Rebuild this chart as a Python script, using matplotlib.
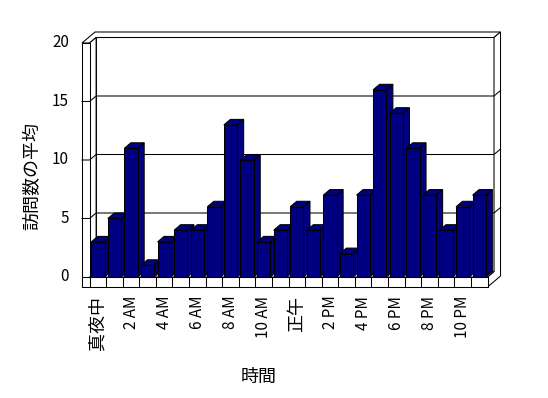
import matplotlib
matplotlib.use("Agg")
import matplotlib.pyplot as plt
from matplotlib.patches import Polygon

plt.rcParams["font.family"] = ["Noto Sans CJK JP", "DejaVu Sans"]

# average visits per hour (0..23)
visits = [3, 5, 11, 1, 3, 4, 4, 6, 13, 10, 3, 4,
          6, 4, 7, 2, 7, 16, 14, 11, 7, 4, 6, 7]
tick_labels = ["真夜中", "2 AM", "4 AM", "6 AM", "8 AM", "10 AM",
               "正午", "2 PM", "4 PM", "6 PM", "8 PM", "10 PM"]
y_ticks = [0, 5, 10, 15, 20]

NAVY = "#000080"
LW = 0.75
DX, DY = 0.392, 0.47       # depth offset (one depth unit) in data units
WALL_T = -0.458            # outer edge of the left wall
FLOOR_B = -0.855           # bottom of the floor slab
TOP = 20
n = len(visits)


def face(pts, z, fc="white"):
    ax.add_patch(Polygon(pts, closed=True, fc=fc, ec="black", lw=LW,
                         joinstyle="miter", zorder=z))


fig = plt.figure(figsize=(5.48, 3.98), dpi=100)
ax = fig.add_axes([0, 0, 1, 1])
ax.set_xlim(-5.404, 27.648)
ax.set_ylim(-10.342, 23.675)
ax.axis("off")

# walls and floor
face([(DX, DY), (n + DX, DY), (n + DX, TOP + DY), (DX, TOP + DY)], 1)
face([(WALL_T, TOP), (WALL_T + 2 * DX, TOP + 2 * DY), (n + 2 * DX, TOP + 2 * DY),
      (n + DX, TOP + DY), (DX, TOP + DY), (0, TOP)], 1)
face([(n, FLOOR_B), (n + 2 * DX, FLOOR_B + 2 * DY), (n + 2 * DX, TOP + 2 * DY),
      (n + DX, TOP + DY), (n + DX, DY), (n, 0)], 1)
face([(0, 0), (DX, DY), (DX, TOP + DY), (0, TOP)], 1)
face([(WALL_T, FLOOR_B), (0, FLOOR_B), (0, TOP), (WALL_T, TOP)], 1)
face([(0, 0), (n, 0), (n + DX, DY), (DX, DY)], 1)
face([(0, FLOOR_B), (n, FLOOR_B), (n, 0), (0, 0)], 1)

# gridlines running over the walls
for v in y_ticks[1:-1]:
    ax.plot([WALL_T, 0, DX, n + DX, n + 2 * DX],
            [v, v, v + DY, v + DY, v + 2 * DY], color="black", lw=LW, zorder=2)
ax.plot([WALL_T, 0], [0, 0], color="black", lw=LW, zorder=2)

# category ticks on the floor front
for u in range(n + 1):
    ax.plot([u, u], [FLOOR_B, 0], color="black", lw=LW, zorder=2)

# bars: front faces from ax.bar, top and side faces as polygons
bars = ax.bar([i + 0.5 for i in range(n)], visits, width=0.8,
              color=NAVY, edgecolor="black", linewidth=LW)
for i, (b, h) in enumerate(zip(bars, visits)):
    x0, x1 = i + 0.1, i + 0.9
    z = 3 + i * 0.01
    face([(x1, 0), (x1 + DX, DY), (x1 + DX, h + DY), (x1, h)], z, NAVY)
    face([(x0, h), (x1, h), (x1 + DX, h + DY), (x0 + DX, h + DY)], z, NAVY)
    b.set_zorder(z + 0.005)

# value labels
for v in y_ticks:
    ax.text(-1.242, v, str(v), ha="right", va="center", fontsize=11)

# hour labels (every other category)
for k, lab in enumerate(tick_labels):
    cjk = not lab[0].isdigit()
    ax.text(2 * k + 0.5, -1.6, lab, rotation=90, ha="center", va="top",
            fontsize=13 if cjk else 11)

fig.text(32 / 548, 1 - 176 / 398, "訪問数の平均", rotation=90,
         ha="center", va="center", fontsize=13)
fig.text(259 / 548, 1 - 377 / 398, "時間", ha="center", va="center",
         fontsize=13)

fig.savefig("out.png", dpi=100)
